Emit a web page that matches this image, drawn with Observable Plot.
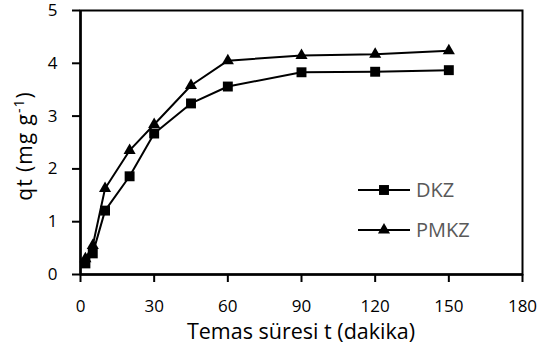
<!DOCTYPE html>
<html>
<head>
<meta charset="utf-8">
<script src="https://cdn.jsdelivr.net/npm/d3@7"></script>
<script src="https://cdn.jsdelivr.net/npm/@observablehq/plot@0.6"></script>
<style>
  html, body { margin: 0; padding: 0; background: #fff; }
  svg { display: block; }
</style>
</head>
<body>
<div id="chart"></div>
<script>
const time = [2, 5, 10, 20, 30, 45, 60, 90, 120, 150];
const dkz = [0.21, 0.40, 1.21, 1.86, 2.67, 3.24, 3.56, 3.83, 3.84, 3.87];
const pmkz = [0.30, 0.55, 1.63, 2.35, 2.84, 3.58, 4.05, 4.15, 4.17, 4.24];
const xTicks = [0, 30, 60, 90, 120, 150, 180];
const yTicks = [0, 1, 2, 3, 4, 5];
const seriesNames = ["DKZ", "PMKZ"];

const rows = [];
time.forEach((t, i) => {
  rows.push({t, q: dkz[i], s: "DKZ"});
  rows.push({t, q: pmkz[i], s: "PMKZ"});
});
const dRows = rows.filter(d => d.s === "DKZ");
const pRows = rows.filter(d => d.s === "PMKZ");

const font = "'Open Sans', sans-serif";

const chart = Plot.plot({
  width: 540,
  height: 351,
  marginLeft: 80,
  marginRight: 18,
  marginTop: 10,
  marginBottom: 77,
  style: {fontFamily: font, fontSize: "17px", color: "#000", background: "#fff"},
  x: {domain: [0, 180], ticks: xTicks, label: null},
  y: {domain: [0, 5], ticks: yTicks, label: null},
  marks: [
    Plot.axisX({ticks: xTicks, tickSize: 8, tickPadding: 17, strokeWidth: 2, fontSize: 17, tickFormat: d3.format("d"), label: null}),
    Plot.axisY({ticks: yTicks, tickSize: 8, tickPadding: 15, strokeWidth: 2, fontSize: 17, tickFormat: d3.format("d"), label: null}),
    Plot.frame({stroke: "#000", strokeWidth: 2}),
    Plot.ruleX([0], {stroke: "#000", strokeWidth: 2.5}),
    Plot.ruleY([0], {stroke: "#000", strokeWidth: 2.5}),
    Plot.line(dRows, {x: "t", y: "q", stroke: "#000", strokeWidth: 2}),
    Plot.line(pRows, {x: "t", y: "q", stroke: "#000", strokeWidth: 2}),
    Plot.dot(dRows, {x: "t", y: "q", symbol: "square", r: 5.6, fill: "#000", stroke: "none"}),
    Plot.dot(pRows, {x: "t", y: "q", symbol: "triangle", r: 4.5, fill: "#000", stroke: "none"})
  ]
});

const svg = d3.select(chart);

// Y axis title with superscript
const yt = svg.append("text")
  .attr("transform", "translate(32,146) rotate(-90)")
  .attr("text-anchor", "middle")
  .attr("font-family", font)
  .attr("font-size", 21)
  .attr("letter-spacing", 1)
  .attr("fill", "#000");
yt.append("tspan").text("qt (mg g");
yt.append("tspan").attr("dy", -8).attr("font-size", 14).text("-1");
yt.append("tspan").attr("dy", 8).text(")");

// X axis title
svg.append("text")
  .attr("x", 301)
  .attr("y", 339)
  .attr("text-anchor", "middle")
  .attr("font-family", font)
  .attr("font-size", 21.5)
  .attr("fill", "#000")
  .text("Temas süresi t (dakika)");

// Legend
const symbols = [d3.symbolSquare, d3.symbolTriangle];
const sizes = [5.6 * 5.6 * Math.PI, 4.5 * 4.5 * Math.PI];
seriesNames.forEach((name, i) => {
  const y = 190 + i * 40;
  const g = svg.append("g");
  g.append("line").attr("x1", 358).attr("x2", 410).attr("y1", y).attr("y2", y)
    .attr("stroke", "#000").attr("stroke-width", 2);
  g.append("path").attr("d", d3.symbol(symbols[i], sizes[i])())
    .attr("transform", `translate(384,${y})`).attr("fill", "#000");
  g.append("text").attr("x", 416).attr("y", y).attr("dy", "0.35em")
    .attr("text-anchor", "start")
    .attr("font-family", font).attr("font-size", 20).attr("fill", "#595959")
    .text(name);
});

document.getElementById("chart").appendChild(chart);
</script>
</body>
</html>
